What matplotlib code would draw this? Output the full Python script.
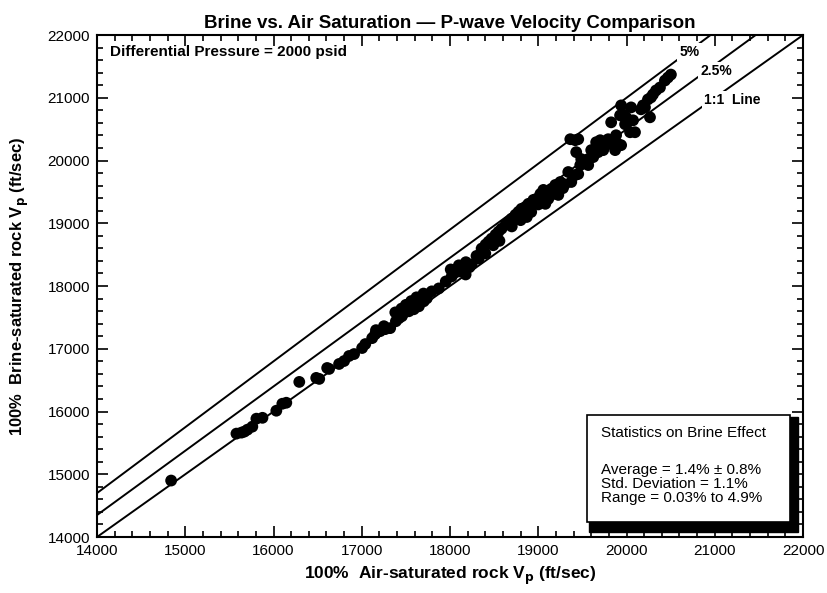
import numpy as np
import matplotlib
matplotlib.use('Agg')
import matplotlib.pyplot as plt
from matplotlib.patches import Rectangle
from matplotlib.ticker import MultipleLocator

# P-wave velocities (ft/sec) for each core plug, dry vs brine saturated
air_vp = [
    14840,
    15580, 15637, 15670, 15705, 15760, 15806, 15875,
    16032, 16100, 16145, 16292, 16484, 16518, 16608, 16630,
    16743, 16800, 16856, 16913,
    17004, 17040, 17118, 17152, 17209, 17266, 17322, 17161, 17251,
    17387, 17421, 17455, 17534, 17590, 17647, 17703, 17737, 17421, 17613, 17681,
    17380, 17450, 17500, 17560, 17620, 17700,
    17793, 17873, 17952, 18008, 18064, 18132, 18177, 18245, 18324, 18019, 18098,
    18040, 18100, 18180, 18220, 18300, 18400,
    18358, 18403, 18437, 18471, 18516, 18550, 18584, 18629, 18663, 18697,
    18490, 18560, 18700, 18800, 18870, 18920, 19000, 19080,
    18742, 18776, 18810, 18855, 18888, 18945, 18979, 19024, 19058,
    19080, 19114, 19148, 19171, 19193, 19227, 19250, 19200, 19280, 19300,
    19340, 19374, 19419, 19453, 19476, 19487, 19532, 19566,
    19363, 19419, 19453, 19430,
    19600, 19623, 19566, 19656, 19679, 19702, 19713, 19736,
    19792, 19826, 19871, 19882, 19905, 19939,
    19826, 19927, 19939, 19961, 19984, 19995, 20052, 20040, 20074, 20096,
    20164, 20187, 20209, 20243, 20266, 20277, 20300, 20334, 20379, 20435, 20469, 20503,
]
brine_vp = [
    14900,
    15648, 15664, 15680, 15711, 15759, 15886, 15900,
    16013, 16124, 16140, 16472, 16536, 16520, 16694, 16679,
    16758, 16805, 16885, 16916,
    17012, 17075, 17170, 17233, 17281, 17313, 17329, 17297, 17360,
    17439, 17487, 17519, 17598, 17630, 17677, 17757, 17804, 17550, 17709, 17788,
    17580, 17640, 17700, 17760, 17820, 17880,
    17915, 17962, 18073, 18264, 18232, 18280, 18184, 18343, 18438, 18153, 18232,
    18200, 18330, 18380, 18300, 18480, 18520,
    18597, 18660, 18707, 18755, 18818, 18866, 18914, 18977, 19025, 19072,
    18650, 18720, 18950, 19050, 19100, 19180, 19300, 19420,
    19136, 19183, 19231, 19262, 19310, 19373, 19389, 19468, 19532,
    19310, 19389, 19548, 19468, 19611, 19452, 19658, 19500, 19560, 19620,
    19817, 19658, 19769, 19785, 19928, 20023, 19975, 19928,
    20340, 20324, 20340, 20134,
    20166, 20055, 20023, 20292, 20134, 20324, 20245, 20166,
    20340, 20261, 20166, 20403, 20261, 20245,
    20609, 20720, 20879, 20736, 20578, 20689, 20847, 20451, 20641, 20451,
    20816, 20879, 20847, 20974, 20689, 21006, 21053, 21117, 21164, 21275, 21323, 21370,
]

# reference lines: 1:1, +2.5 % and +5 % brine effect
ref_pct = [0.0, 2.5, 5.0]
ref_text = ["1:1  Line", "2.5%", "5%"]
ref_label_x = [21200, 21018, 20713]
ref_label_y = [20966, 21428, 21731]

stats_title = "Statistics on Brine Effect"
stats_lines = [
    "Average = 1.4% \u00b1 0.8%",
    "Std. Deviation = 1.1%",
    "Range = 0.03% to 4.9%",
]

plt.rcParams['font.family'] = ['Liberation Sans', 'DejaVu Sans']

fig = plt.figure(figsize=(8.27, 5.93), dpi=100)
ax = fig.add_axes([0.1173, 0.0944, 0.8537, 0.8465])

lim = (14000, 22000)
xx = np.array(lim, dtype=float)
for pct in ref_pct:
    ax.plot(xx, xx * (1 + pct / 100.0), color='black', lw=1.4, zorder=2)

for t, lx, ly in zip(ref_text, ref_label_x, ref_label_y):
    ax.text(lx, ly, t, ha='center', va='center', fontsize=10, fontweight='bold',
            zorder=4, bbox=dict(facecolor='white', edgecolor='none', pad=1.5))

ax.scatter(air_vp, brine_vp, s=72, color='black', edgecolors='none', zorder=3)

ax.set_xlim(*lim)
ax.set_ylim(*lim)
ax.xaxis.set_major_locator(MultipleLocator(1000))
ax.yaxis.set_major_locator(MultipleLocator(1000))
ax.xaxis.set_minor_locator(MultipleLocator(200))
ax.yaxis.set_minor_locator(MultipleLocator(200))
ax.tick_params(which='both', direction='in', top=True, right=True, labelsize=11, width=1.2)
ax.tick_params(which='major', length=8, pad=5)
ax.tick_params(which='minor', length=4)
for sp in ax.spines.values():
    sp.set_linewidth(1.5)

ax.set_title("Brine vs. Air Saturation \u2014 P-wave Velocity Comparison",
             fontsize=13.5, fontweight='bold', pad=5)
ax.set_xlabel(r"100%  Air-saturated rock V$_\mathbf{p}$ (ft/sec)",
              fontsize=12.5, fontweight='bold', labelpad=5)
ax.set_ylabel(r"100%  Brine-saturated rock V$_\mathbf{p}$ (ft/sec)",
              fontsize=12, fontweight='bold', labelpad=12)

ax.text(0.018, 0.966, "Differential Pressure = 2000 psid", transform=ax.transAxes,
        ha='left', va='center', fontsize=11, fontweight='bold')

# statistics box with a heavy shadow on the right and bottom edges
bx0, by0, bx1, by1 = 0.694, 0.030, 0.982, 0.243
ax.add_patch(Rectangle((bx0 + 0.003, by0 - 0.020), bx1 - bx0 + 0.008, by1 - by0 + 0.016,
                       transform=ax.transAxes, facecolor='black', edgecolor='black', zorder=5))
ax.add_patch(Rectangle((bx0, by0), bx1 - bx0, by1 - by0, transform=ax.transAxes,
                       facecolor='white', edgecolor='black', lw=1.2, zorder=6))
ax.text(0.714, 0.207, stats_title, transform=ax.transAxes,
        ha='left', va='center', fontsize=11, zorder=7)
for i, line in enumerate(stats_lines):
    ax.text(0.714, 0.1335 - i * 0.0279, line, transform=ax.transAxes,
            ha='left', va='center', fontsize=11, zorder=7)

fig.savefig('out.png', dpi=100)
